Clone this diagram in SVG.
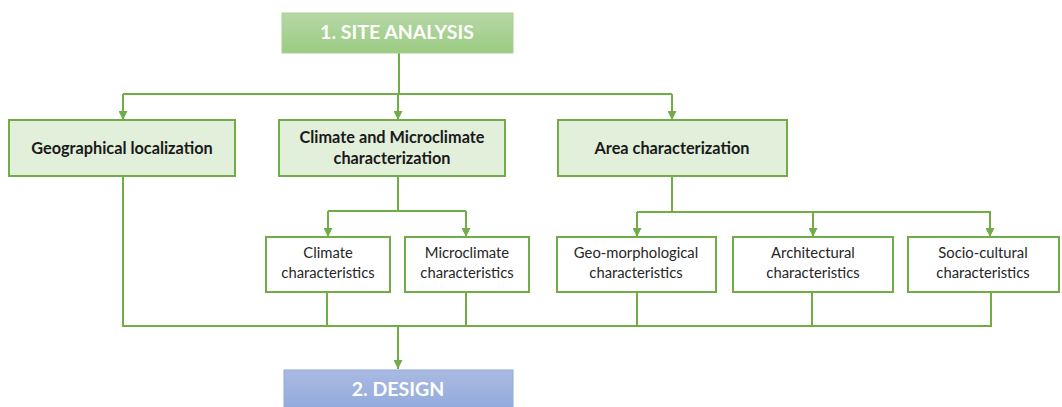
<svg xmlns="http://www.w3.org/2000/svg" width="1062" height="407" viewBox="0 0 1062 407">
  <style>
    .node { fill: #e2efda; stroke: #70ad47; stroke-width: 2; }
    .sub { fill: #ffffff; stroke: #70ad47; stroke-width: 2; }
    .wire { fill: none; stroke: #70ad47; stroke-width: 2; }
    .head { font-family: Lato, "Liberation Sans", sans-serif; font-weight: bold; font-size: 19.5px; fill: #ffffff; text-anchor: middle; }
    .lbl { font-family: Lato, "Liberation Sans", sans-serif; font-weight: bold; font-size: 16.3px; fill: #1a1a1a; text-anchor: middle; }
    .small { font-family: Lato, "Liberation Sans", sans-serif; font-size: 14.8px; fill: #262626; text-anchor: middle; }
  </style>
  <defs>
    <linearGradient id="gGreen" x1="0" y1="0" x2="0" y2="1">
      <stop offset="0" stop-color="#b6d7a6"/>
      <stop offset="1" stop-color="#9bcb82"/>
    </linearGradient>
    <linearGradient id="gBlue" x1="0" y1="0" x2="0" y2="1">
      <stop offset="0" stop-color="#aabae2"/>
      <stop offset="1" stop-color="#8ea8db"/>
    </linearGradient>
    <marker id="arrow" viewBox="0 0 10 10" refX="10" refY="5" markerWidth="4.5" markerHeight="4.5" orient="auto" markerUnits="strokeWidth">
      <path d="M0,0 L10,5 L0,10 z" fill="#70ad47"/>
    </marker>
  </defs>

  <g id="connectors">
    <!-- top branch -->
    <path class="wire" d="M399,53 V94"/>
    <path class="wire" d="M123,94 H672"/>
    <path class="wire" d="M123,94 V120" marker-end="url(#arrow)"/>
    <path class="wire" d="M398,94 V120" marker-end="url(#arrow)"/>
    <path class="wire" d="M672,94 V120" marker-end="url(#arrow)"/>
    <!-- climate branch -->
    <path class="wire" d="M398,176 V211 M328,211 H466"/>
    <path class="wire" d="M328,211 V237" marker-end="url(#arrow)"/>
    <path class="wire" d="M466,211 V237" marker-end="url(#arrow)"/>
    <!-- area branch -->
    <path class="wire" d="M672,176 V212 M637,212 H991"/>
    <path class="wire" d="M637,212 V237" marker-end="url(#arrow)"/>
    <path class="wire" d="M813,212 V237" marker-end="url(#arrow)"/>
    <path class="wire" d="M990,212 V237" marker-end="url(#arrow)"/>
    <!-- collector -->
    <path class="wire" d="M123,176 V326 M327,292 V326 M466,292 V327 M637,292 V326 M812,292 V326 M991,292 V326"/>
    <path class="wire" d="M122,326 H992"/>
    <path class="wire" d="M398,326 V369" marker-end="url(#arrow)"/>
  </g>

  <g id="site-analysis">
    <rect x="282" y="13" width="231" height="40" fill="url(#gGreen)" stroke="#a9d18e" stroke-width="1"/>
    <text class="head" x="397" y="39">1. SITE ANALYSIS</text>
  </g>

  <g id="geographical">
    <rect class="node" x="9" y="120" width="226" height="56"/>
    <text class="lbl" x="122" y="154">Geographical localization</text>
  </g>
  <g id="climate-micro">
    <rect class="node" x="279" y="120" width="226" height="56"/>
    <text class="lbl" x="392" y="143">Climate and Microclimate</text>
    <text class="lbl" x="392" y="164">characterization</text>
  </g>
  <g id="area">
    <rect class="node" x="558" y="120" width="229" height="56"/>
    <text class="lbl" x="672" y="154">Area characterization</text>
  </g>

  <g id="climate-chars">
    <rect class="sub" x="266" y="237" width="124" height="55"/>
    <text class="small" x="328" y="258">Climate</text>
    <text class="small" x="328" y="278">characteristics</text>
  </g>
  <g id="microclimate-chars">
    <rect class="sub" x="405" y="237" width="124" height="55"/>
    <text class="small" x="467" y="258">Microclimate</text>
    <text class="small" x="467" y="278">characteristics</text>
  </g>
  <g id="geomorph-chars">
    <rect class="sub" x="557" y="237" width="159" height="55"/>
    <text class="small" x="636" y="258">Geo-morphological</text>
    <text class="small" x="636" y="278">characteristics</text>
  </g>
  <g id="architectural-chars">
    <rect class="sub" x="733" y="237" width="160" height="55"/>
    <text class="small" x="813" y="258">Architectural</text>
    <text class="small" x="813" y="278">characteristics</text>
  </g>
  <g id="sociocultural-chars">
    <rect class="sub" x="908" y="237" width="151" height="55"/>
    <text class="small" x="983" y="258">Socio-cultural</text>
    <text class="small" x="983" y="278">characteristics</text>
  </g>

  <g id="design">
    <rect x="284" y="370" width="229" height="45" fill="url(#gBlue)" stroke="#8faadc" stroke-width="1"/>
    <text class="head" x="398" y="396">2. DESIGN</text>
  </g>
</svg>
